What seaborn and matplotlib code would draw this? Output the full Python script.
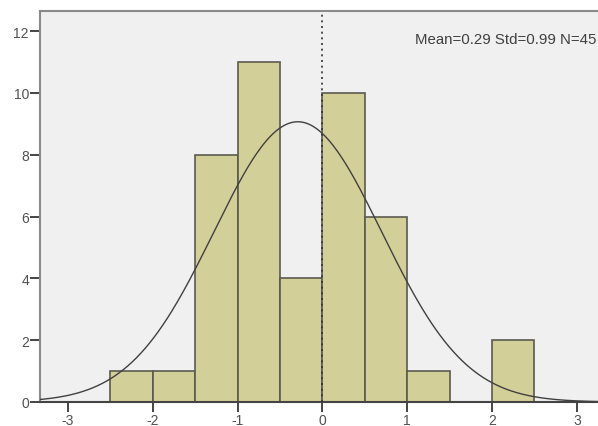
import numpy as np
import matplotlib
matplotlib.use("Agg")
import matplotlib.pyplot as plt
import seaborn as sns

# Histogram bins (width 0.5) and counts per bin
bin_edges = [-2.5, -2.0, -1.5, -1.0, -0.5, 0.0, 0.5, 1.0, 1.5, 2.0, 2.5]
counts = [1, 1, 8, 11, 4, 10, 6, 1, 0, 2]

# Fitted normal curve parameters
curve_mean = -0.29
curve_std = 0.99
n_obs = 45
stats_label = "Mean=0.29 Std=0.99 N=45"

x_ticks = [-3, -2, -1, 0, 1, 2, 3]
y_ticks = [0, 2, 4, 6, 8, 10, 12]

sns.set_theme(style="white")
plt.rcParams["font.family"] = ["Liberation Sans", "DejaVu Sans"]
plt.rcParams["axes.unicode_minus"] = False

fig = plt.figure(figsize=(5.98, 4.27), dpi=100)
ax = fig.add_axes([40 / 598, 1 - 403 / 427, 1 - 40 / 598, (403 - 12) / 427])
ax.set_facecolor("#f0f0f0")

centers = [(a + b) / 2 for a, b in zip(bin_edges[:-1], bin_edges[1:])]
sns.histplot(x=centers, weights=counts, bins=bin_edges, ax=ax,
             color="#d3cf98", alpha=1.0, edgecolor="#5a5a50", linewidth=1.2,
             zorder=2)

# Reference line at zero
ax.axvline(0, color="#333333", linestyle=(0, (1.2, 2.2)), linewidth=1.2, zorder=3)

# Normal curve scaled to counts
bw = bin_edges[1] - bin_edges[0]
xs = np.linspace(-3.4, 3.4, 400)
pdf = np.exp(-0.5 * ((xs - curve_mean) / curve_std) ** 2) / (curve_std * np.sqrt(2 * np.pi))
ax.plot(xs, pdf * n_obs * bw, color="#404040", linewidth=1.0, zorder=4)

ax.text(3.235, 11.73, stats_label, ha="right", va="center", fontsize=10.8,
        color="#404040")

ax.set_xlim(-3.33, 3.25)
ax.set_ylim(0, 12.65)
ax.set_xticks(x_ticks)
ax.set_yticks(y_ticks)
ax.set_xlabel("")
ax.set_ylabel("")
ax.tick_params(axis="both", direction="out", length=7, width=1.4,
               bottom=True, left=True, color="#444444", labelcolor="#505050",
               labelsize=10)
ax.tick_params(axis="x", pad=1)
ax.tick_params(axis="y", pad=1)

for side in ["left", "top", "bottom"]:
    ax.spines[side].set_visible(True)
    ax.spines[side].set_color("#8a8a8a")
    ax.spines[side].set_linewidth(1.5)
ax.spines["bottom"].set_color("#444444")
ax.spines["right"].set_visible(False)

fig.savefig("out.png", dpi=100, facecolor="white")
